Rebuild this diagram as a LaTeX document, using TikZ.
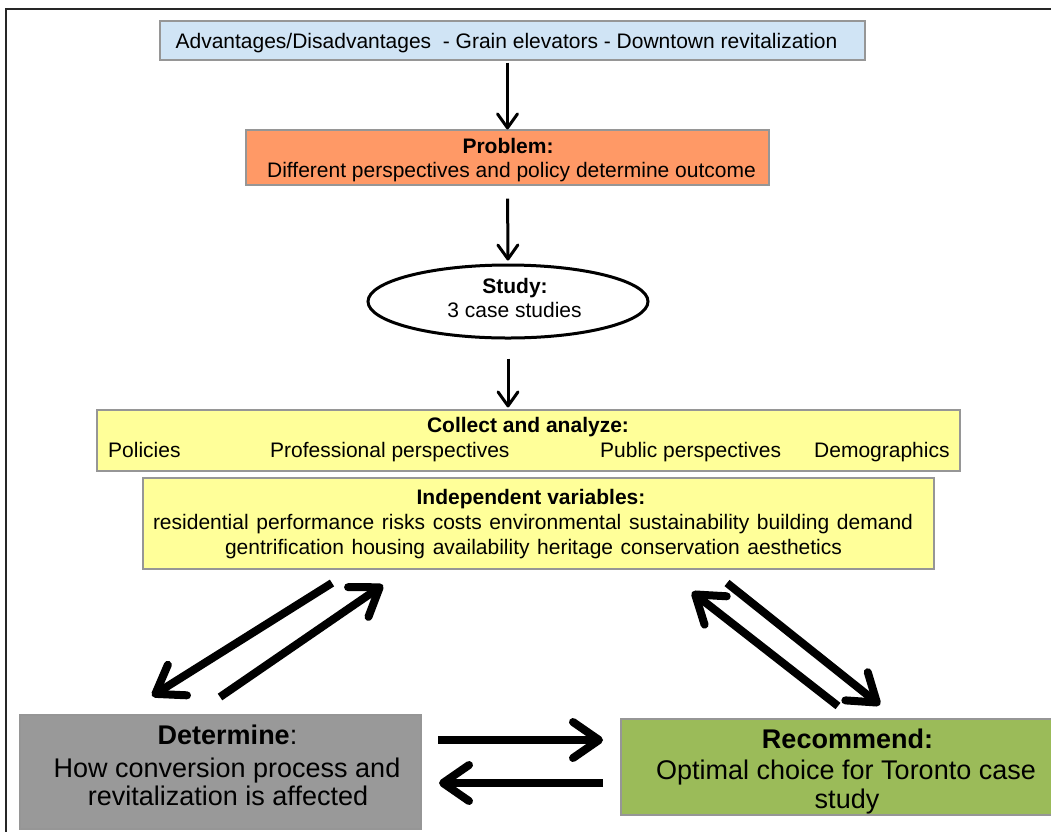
\documentclass[tikz,border=0pt]{standalone}
\usepackage{fontspec}
\setmainfont{Liberation Sans}
\usetikzlibrary{arrows.meta,shapes.geometric,calc}
\definecolor{topblue}{RGB}{208,228,245}
\definecolor{probor}{RGB}{255,153,102}
\definecolor{yel}{RGB}{255,255,153}
\definecolor{detgray}{RGB}{153,153,153}
\definecolor{recgreen}{RGB}{155,187,89}
\definecolor{edgegray}{RGB}{150,150,150}
\tikzset{
  box/.style={draw=edgegray, line width=1.2pt, rectangle, inner sep=0pt},
  txt/.style={anchor=base, inner sep=0pt, font=\fontsize{21}{25}\selectfont},
  bigtxt/.style={anchor=base, inner sep=0pt, font=\fontsize{27}{32}\selectfont},
  varrow/.style={line width=3pt, -{Straight Barb[length=14pt,width=20pt,round]}},
  bigarrow/.style={line width=8pt, -{Straight Barb[length=26pt,width=36pt,round]}}
}
\begin{document}
\begin{tikzpicture}[x=1pt,y=-1pt]
\useasboundingbox (0,0) rectangle (1051,831);
\clip (0,0) rectangle (1051,831);
\fill[white] (0,0) rectangle (1051,831);
% outer frame
\coordinate (fr1) at (1060,9);
\coordinate (fr2) at (6,9);
\coordinate (fr3) at (6,840);
\draw[line width=1.3pt, black!85] (fr1) -- (fr2) -- (fr3);

% boxes
\node[box, fill=topblue, minimum width=705pt, minimum height=39pt] (top) at (512.5,40.5) {};
\node[box, fill=probor, minimum width=523pt, minimum height=55pt] (prob) at (507.5,157.5) {};
\node[draw=black, line width=3pt, fill=white, ellipse, minimum width=280pt, minimum height=73pt, inner sep=0pt] (study) at (508,301.5) {};
\node[box, fill=yel, minimum width=863pt, minimum height=61pt] (coll) at (528.5,440.5) {};
\node[box, fill=yel, minimum width=791pt, minimum height=91pt] (indep) at (538.5,523.5) {};
\node[box, fill=detgray, minimum width=401pt, minimum height=114pt] (det) at (220.5,772) {};
\node[box, fill=recgreen, minimum width=452pt, minimum height=96pt] (rec) at (847,767) {};

% texts
\node[txt] (ttop) at (506.5,48) {Advantages/Disadvantages\ \ - Grain elevators - Downtown revitalization};
\node[txt] (tprob1) at (508,153) {\bfseries Problem:};
\node[txt] (tprob2) at (511.5,177) {Different perspectives and policy determine outcome};
\node[txt] (tstudy1) at (515,293) {\bfseries Study:};
\node[txt] (tstudy2) at (514.5,317) {3 case studies};
\node[txt] (tcoll) at (528,432) {\bfseries Collect and analyze:};
\node[txt, anchor=base west] (tpol) at (108,457) {Policies};
\node[txt, anchor=base west] (tprof) at (270,457) {Professional perspectives};
\node[txt, anchor=base west] (tpub) at (600,457) {Public perspectives};
\node[txt, anchor=base west] (tdem) at (814,457) {Demographics};
\node[txt] (tind1) at (531,504) {\bfseries Independent variables:};
\node[txt] (tind2) at (533,529) {\makebox[760pt][s]{residential performance risks costs environmental sustainability building demand}};
\node[txt] (tind3) at (533.5,554) {\makebox[617pt][s]{gentrification housing availability heritage conservation aesthetics}};
\node[bigtxt] (tdet1) at (227.5,744) {\bfseries Determine\mdseries:};
\node[bigtxt] (tdet2) at (227,777) {How conversion process and};
\node[bigtxt] (tdet3) at (228,805) {revitalization is affected};
\node[bigtxt] (trec1) at (847.5,748) {\bfseries Recommend:};
\node[bigtxt] (trec2) at (846,779) {Optimal choice for Toronto case};
\node[bigtxt] (trec3) at (847,808) {study};

% vertical arrows
\draw[varrow, shorten <=2pt] (top.south -| prob.north) -- (prob.north);
\draw[varrow, shorten <=13pt, shorten >=3pt] (prob.south) -- (study.north);
\draw[varrow, shorten <=19pt, shorten >=2pt] (study.south) -- (study.south |- coll.north);

% big arrows
\coordinate (a1) at (332,583);
\coordinate (a2) at (152,696);
\coordinate (b1) at (220,697);
\coordinate (b2) at (383,585);
\coordinate (c1) at (838,706);
\coordinate (c2) at (692,592);
\coordinate (d1) at (727,583);
\coordinate (d2) at (880,705);
\coordinate (e1) at (438,740);
\coordinate (e2) at (603,740);
\coordinate (f1) at (603,783);
\coordinate (f2) at (439,783);
\draw[bigarrow] (a1) -- (a2);
\draw[bigarrow] (b1) -- (b2);
\draw[bigarrow] (c1) -- (c2);
\draw[bigarrow] (d1) -- (d2);
\draw[bigarrow] (e1) -- (e2);
\draw[bigarrow] (f1) -- (f2);
\end{tikzpicture}
\end{document}
